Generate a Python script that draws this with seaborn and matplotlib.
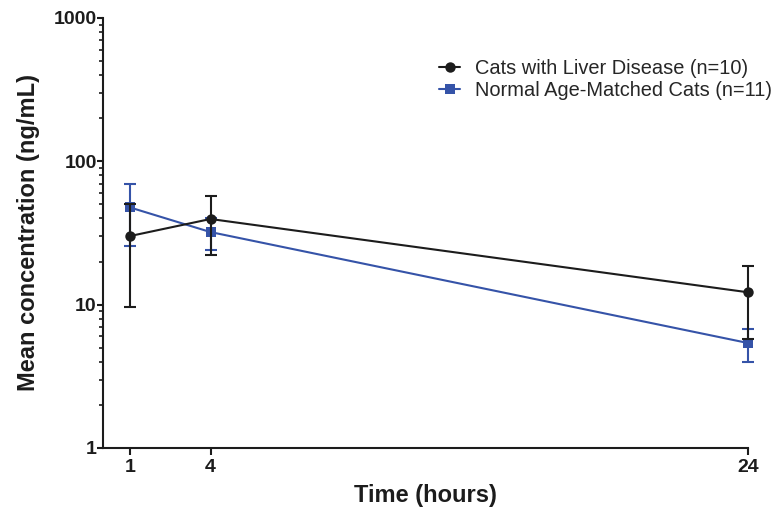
import numpy as np
import pandas as pd
import matplotlib
matplotlib.use("Agg")
import matplotlib.pyplot as plt
import seaborn as sns
from matplotlib.ticker import LogLocator, NullFormatter, FixedLocator

# data (mean +/- SD)
hours = [1, 4, 24]
liver_mean = [30.1, 39.6, 12.2]
liver_sd = [20.5, 17.5, 6.4]
normal_mean = [47.7, 32.1, 5.4]
normal_sd = [22.0, 8.0, 1.4]
liver_label = "Cats with Liver Disease (n=10)"
normal_label = "Normal Age-Matched Cats (n=11)"

black = "#1c1c1c"
blue = "#3553a8"

sns.set_style("ticks")
plt.rcParams["font.family"] = ["Liberation Sans", "DejaVu Sans"]

df_liver = pd.DataFrame({"t": hours, "c": liver_mean})
df_normal = pd.DataFrame({"t": hours, "c": normal_mean})

fig = plt.figure(figsize=(7.77, 5.08), dpi=100)
ax = fig.add_axes([103 / 777, 1 - 448 / 508, (748 - 103) / 777, (448 - 18) / 508])


def bars(x, y, err, col, z):
    eb = ax.errorbar(x, y, yerr=err, fmt="none", ecolor=col, elinewidth=1.5,
                     capsize=4, capthick=1.5, zorder=z)
    for art in eb.lines[1] + eb.lines[2]:
        art.set_clip_on(False)


# normal cats first, liver disease drawn on top
bars(hours, normal_mean, normal_sd, blue, 2)
sns.lineplot(data=df_normal, x="t", y="c", ax=ax, color=blue, marker="s",
             markersize=7, markeredgewidth=0, linewidth=1.5,
             label=normal_label, zorder=3, clip_on=False)
bars(hours, liver_mean, liver_sd, black, 4)
sns.lineplot(data=df_liver, x="t", y="c", ax=ax, color=black, marker="o",
             markersize=7.5, markeredgewidth=0, linewidth=1.5,
             label=liver_label, zorder=5, clip_on=False)

ax.set_yscale("log")
ax.set_ylim(1, 1000)
ax.set_xlim(0, 24)
ax.xaxis.set_major_locator(FixedLocator(hours))
ax.set_xticklabels([str(h) for h in hours])
ax.set_yticks([1, 10, 100, 1000])
ax.set_yticklabels(["1", "10", "100", "1000"])
ax.yaxis.set_minor_locator(LogLocator(base=10, subs=np.arange(2, 10)))
ax.yaxis.set_minor_formatter(NullFormatter())

for side in ["top", "right"]:
    ax.spines[side].set_visible(False)
for side in ["left", "bottom"]:
    ax.spines[side].set_linewidth(1.5)
    ax.spines[side].set_color(black)

ax.tick_params(axis="both", which="major", width=1.5, color=black, labelsize=14)
ax.tick_params(axis="y", which="major", length=4.5, pad=0)
ax.tick_params(axis="x", which="major", length=5, pad=3)
ax.tick_params(axis="y", which="minor", length=3, width=1.2, color=black)
for lbl in ax.get_xticklabels() + ax.get_yticklabels():
    lbl.set_fontweight("bold")
    lbl.set_color(black)

ax.set_xlabel("Time (hours)", fontsize=17, fontweight="bold", color=black, labelpad=6)
ax.set_ylabel("Mean concentration (ng/mL)", fontsize=17, fontweight="bold",
              color=black, labelpad=10)

handles, labels = ax.get_legend_handles_labels()
order = [labels.index(liver_label), labels.index(normal_label)]
ax.legend([handles[i] for i in order], [labels[i] for i in order],
          loc="upper right", bbox_to_anchor=(1 - 5 / 777, 1 - 59 / 508),
          bbox_transform=fig.transFigure, frameon=False, fontsize=14.4,
          handlelength=1.05, handletextpad=0.75, labelspacing=0.15,
          borderpad=0, borderaxespad=0)

fig.savefig("out.png", dpi=100)
